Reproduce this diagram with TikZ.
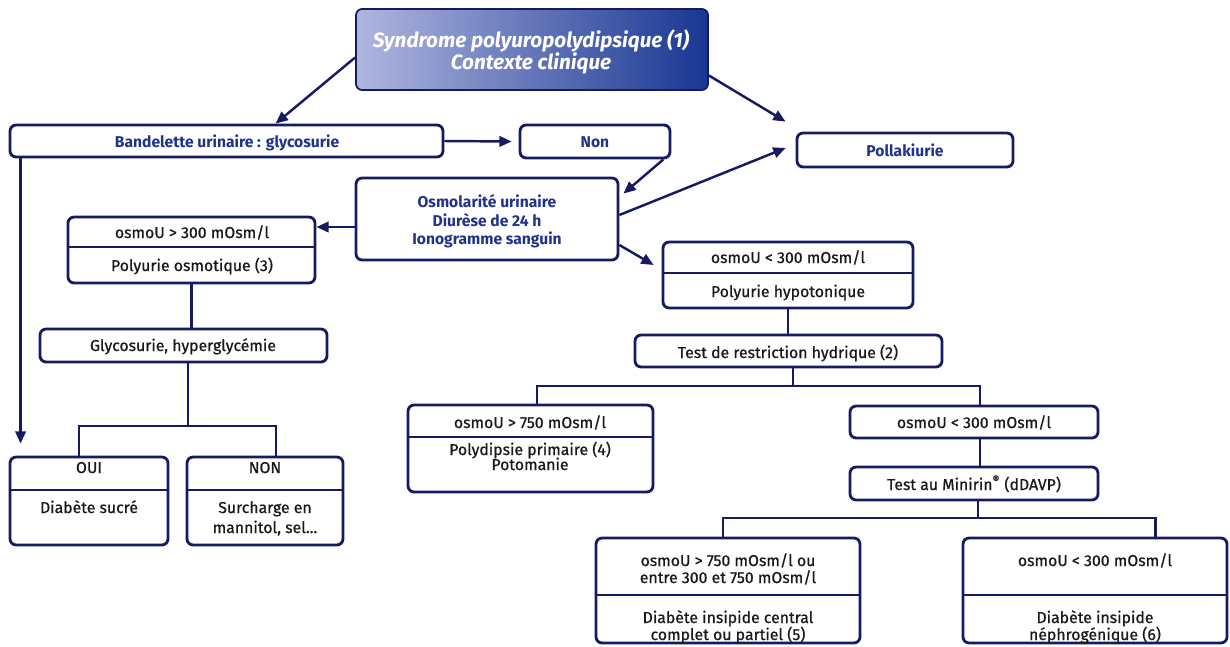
\documentclass[tikz,border=0pt]{standalone}
\usepackage{fontspec}
\setmainfont{Fira Sans}
\newfontfamily\semibf[FakeBold=0.7]{Fira Sans}
\usetikzlibrary{arrows.meta,fit,calc}
\definecolor{navy}{RGB}{22,26,98}
\definecolor{tblue}{RGB}{32,50,138}
\definecolor{tblack}{RGB}{24,24,30}
\definecolor{topL}{RGB}{176,182,224}
\definecolor{topR}{RGB}{24,54,146}
\tikzset{
  box/.style={draw=navy, line width=1.6pt, rounded corners=3.5pt, inner sep=0pt, fill=white},
  bl/.style={font=\fontsize{8.9}{10}\selectfont\bfseries, text=tblue, inner sep=0pt, text height=1.6ex, text depth=.3ex},
  tx/.style={font=\fontsize{9}{10}\selectfont\semibf, text=tblack, inner sep=0pt, text height=1.6ex, text depth=.3ex},
  ttl/.style={font=\fontsize{11.8}{13}\selectfont\bfseries\itshape, text=white, inner sep=0pt, text height=1.6ex, text depth=.3ex},
  ln/.style={draw=navy, line width=1.4pt},
  arr/.style={ln, -{Triangle[length=7pt,width=6pt]}},
  divline/.style={draw=navy, line width=1.4pt}
}
\begin{document}
\begin{tikzpicture}[x=0.02cm,y=-0.02cm]
\useasboundingbox (0,0) rectangle (1230,646);

% top box
\node[draw=navy, line width=1pt, rounded corners=3.5pt, inner sep=0pt, left color=topL, right color=topR, fit={(356,9)(708,90)}] (top) {};
\node[ttl] (top-a) at (531,41) {Syndrome polyuropolydipsique (1)};
\node[ttl] (top-b) at (531,63) {Contexte clinique};

% boxes
\node[box, fit={(10,125)(443,157)}] (band) {};
\node[bl] (band-t) at (227,141) {Bandelette urinaire : glycosurie};
\node[box, fit={(520,125)(670,158)}] (non) {};
\node[bl] (non-t) at (595,141) {Non};
\node[box, fit={(797,133)(1013,167)}] (poll) {};
\node[bl] (poll-t) at (905,150) {Pollakiurie};
\node[box, fit={(356,178)(618,260)}] (osmo) {};
\node[bl] (osmo-a) at (487,201) {Osmolarité urinaire};
\node[bl] (osmo-b) at (487,220) {Diurèse de 24 h};
\node[bl] (osmo-c) at (487,238) {Ionogramme sanguin};

\node[box, fit={(68,217)(315,283)}] (osL) {};
\draw[divline] (osL.west |- 0,247) -- (osL.east |- 0,247);
\node[tx] (osL-a) at (192,232) {osmoU > 300 mOsm/l};
\node[tx] (osL-b) at (192,265) {Polyurie osmotique (3)};

\node[box, fit={(40,329)(327,362)}] (gly) {};
\node[tx] (gly-t) at (183,345) {Glycosurie, hyperglycémie};

\node[box, fit={(10,457)(168,545)}] (oui) {};
\draw[divline] (oui.west |- 0,490) -- (oui.east |- 0,490);
\node[tx] (oui-a) at (89,467) {OUI};
\node[tx] (oui-b) at (89,507) {Diabète sucré};

\node[box, fit={(187,457)(343,545)}] (nonb) {};
\draw[divline] (nonb.west |- 0,490) -- (nonb.east |- 0,490);
\node[tx] (nonb-a) at (265,467) {NON};
\node[tx] (nonb-b) at (265,507) {Surcharge en};
\node[tx] (nonb-c) at (265,527) {mannitol, sel...};

\node[box, fit={(663,242)(913,308)}] (hyp) {};
\draw[divline] (hyp.west |- 0,273) -- (hyp.east |- 0,273);
\node[tx] (hyp-a) at (788,257) {osmoU < 300 mOsm/l};
\node[tx] (hyp-b) at (788,291) {Polyurie hypotonique};

\node[box, fit={(635,335)(942,367)}] (trh) {};
\node[tx] (trh-t) at (788,352) {Test de restriction hydrique (2)};

\node[box, fit={(408,405)(653,492)}] (p750) {};
\draw[divline] (p750.west |- 0,437) -- (p750.east |- 0,437);
\node[tx] (p750-a) at (530,422) {osmoU > 750 mOsm/l};
\node[tx] (p750-b) at (530,449) {Polydipsie primaire (4)};
\node[tx] (p750-c) at (530,464) {Potomanie};

\node[box, fit={(850,406)(1098,438)}] (o300) {};
\node[tx] (o300-t) at (974,422) {osmoU < 300 mOsm/l};

\node[box, fit={(850,467)(1098,500)}] (mini) {};
\node[tx] (mini-t) at (974,484) {Test au Minirin\textsuperscript{®} (dDAVP)};

\node[box, fit={(596,538)(860,643)}] (dic) {};
\draw[divline] (dic.west |- 0,595) -- (dic.east |- 0,595);
\node[tx] (dic-a) at (728,560) {osmoU > 750 mOsm/l ou};
\node[tx] (dic-b) at (728,577) {entre 300 et 750 mOsm/l};
\node[tx] (dic-c) at (728,617) {Diabète insipide central};
\node[tx] (dic-d) at (728,634) {complet ou partiel (5)};

\node[box, fit={(963,538)(1227,643)}] (din) {};
\draw[divline] (din.west |- 0,595) -- (din.east |- 0,595);
\node[tx] (din-a) at (1095,560) {osmoU < 300 mOsm/l};
\node[tx] (din-b) at (1095,617) {Diabète insipide};
\node[tx] (din-c) at (1095,634) {néphrogénique (6)};

% arrows
\draw[arr] ($(top.west)+(0,8)$) -- ($(band.north west)+(267,0)$);
\draw[arr] ($(top.east)+(0,26)$) -- ($(poll.north west)+(-10,-10)$);
\draw[arr] (band.east) -- ($(non.west)+(-7,0)$);
\draw[arr] ($(non.south east)+(-8,0)$) -- ($(osmo.north east)+(4,17)$);
\draw[arr] ($(osmo.east)+(0,-4)$) -- ($(poll.west)+(-10,-2)$);
\draw[arr] ($(osmo.west)+(0,8)$) -- ($(osL.east)+(0,-23)$);
\draw[arr] ($(osmo.east)+(0,26)$) -- ($(hyp.west)+(-8,-10)$);
\draw[arr] ($(band.south west)+(12,0)$) -- ($(oui.north west)+(12,-12)$);

% tree lines
\draw[ln] (osL.south) -- (osL.south |- gly.north);
\coordinate (j1) at (188,426);
\draw[ln] (gly.south -| j1) -- (j1);
\draw[ln] ($(oui.north)+(-10,0)$) |- (j1) -| ($(nonb.north)+(11,0)$);

\draw[ln] (hyp.south) -- (hyp.south |- trh.north);
\coordinate (j2) at (793,386);
\draw[ln] (trh.south -| j2) -- (j2);
\draw[ln] ($(p750.north)+(6.5,0)$) |- (j2) -| ($(o300.north)+(6,0)$);
\draw[ln] ($(o300.south)+(6,0)$) -- ($(mini.north)+(6,0)$);
\coordinate (j3) at (978,518);
\draw[ln] (mini.south -| j3) -- (j3);
\draw[ln] ($(dic.north)+(-5,0)$) |- (j3) -| ($(din.north)+(60.5,0)$);
\end{tikzpicture}
\end{document}
